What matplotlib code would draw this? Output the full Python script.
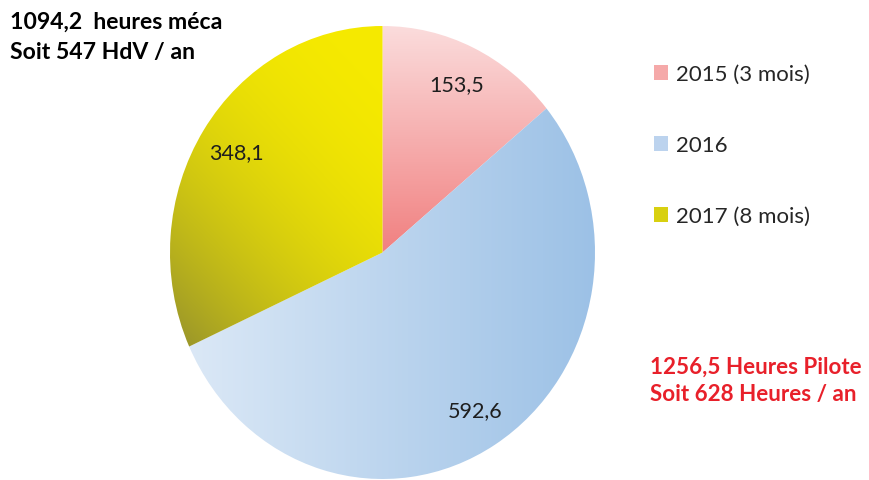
import numpy as np
import matplotlib.pyplot as plt
from matplotlib.patches import Patch

plt.rcParams['font.family'] = ['Lato', 'DejaVu Sans']

# heures de vol par année
annees = ['2015 (3 mois)', '2016', '2017 (8 mois)']
heures = [153.5, 592.6, 348.1]
total_meca = 1094.2
par_an_meca = 547
total_pilote = 1256.5
par_an_pilote = 628

# couleurs des dégradés (début, fin) pour chaque part
degrades = [
    ((251, 220, 220), (241, 128, 128)),
    ((222, 234, 247), (156, 193, 230)),
    ((246, 234, 0), (150, 146, 44)),
]
couleurs_legende = ['#f5a9a9', '#bcd3ee', '#d8d010']


def fmt(v):
    return f"{v:.1f}".replace('.', ',')


fig = plt.figure(figsize=(8.69, 4.81), dpi=100)
ax = fig.add_axes([170 / 869, 1 / 481, 425 / 869, 453 / 481])

total = sum(heures)
wedges, textes, pct = ax.pie(
    heures, startangle=90, counterclock=False,
    colors=['none'] * 3, wedgeprops=dict(linewidth=0),
    autopct=lambda p: fmt(p * total / 100), pctdistance=0.82,
    textprops=dict(fontsize=15.5, color='#1e1e1e'))
ax.set_aspect('auto')
ax.set_xlim(-1, 1)
ax.set_ylim(-1, 1)

# remplissage en dégradé, découpé par chaque part
n = 400
xx, yy = np.meshgrid(np.linspace(-1, 1, n), np.linspace(1, -1, n))
params = [
    (1 - yy),                                          # vertical
    (xx + 1) / 2,                                      # horizontal
    np.clip((-xx - yy + 1) / 2.4, 0, 1) ** 2.2,        # diagonal
]
for w, (c0, c1), t in zip(wedges, degrades, params):
    t = np.clip(t, 0, 1)[..., None]
    img = (np.array(c0) * (1 - t) + np.array(c1) * t) / 255
    im = ax.imshow(img, extent=(-1, 1, -1, 1), aspect='auto', zorder=0)
    im.set_clip_path(w)

for t in pct:
    t.set_zorder(3)

handles = [Patch(facecolor=c, edgecolor='none') for c in couleurs_legende]
fig.legend(handles, annees, loc='upper left', bbox_to_anchor=(634 / 869, 1 - 45 / 481),
           frameon=False, fontsize=16, labelspacing=2.3, handlelength=0.65,
           handleheight=0.65, handletextpad=0.35, labelcolor='#262626')

fig.text(10 / 869, 1 - 22 / 481, f"{fmt(total_meca)}  heures méca", fontsize=16.6,
         fontweight='bold', va='center', ha='left', color='black')
fig.text(10 / 869, 1 - 52 / 481, f"Soit {par_an_meca} HdV / an", fontsize=16.6,
         fontweight='bold', va='center', ha='left', color='black')

fig.text(650 / 869, 1 - 367 / 481, f"{fmt(total_pilote)} Heures Pilote", fontsize=16.1,
         fontweight='bold', va='center', ha='left', color='#e8202a')
fig.text(650 / 869, 1 - 395 / 481, f"Soit {par_an_pilote} Heures / an", fontsize=16.1,
         fontweight='bold', va='center', ha='left', color='#e8202a')

fig.savefig('out.png', dpi=100)
